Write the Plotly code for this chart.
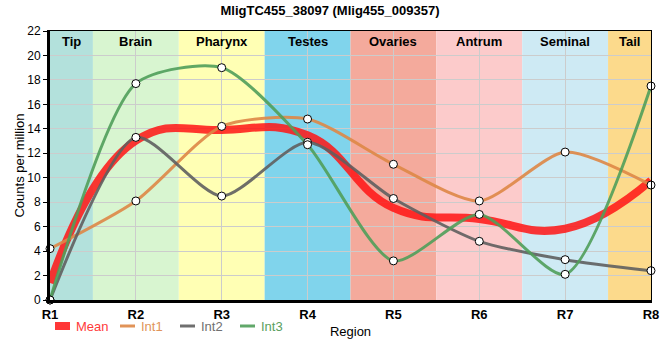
import plotly.graph_objects as go

regions = ["R1", "R2", "R3", "R4", "R5", "R6", "R7", "R8"]
int1 = [4.2, 8.1, 14.2, 14.8, 11.1, 8.1, 12.1, 9.4]
int2 = [0.0, 13.3, 8.5, 12.9, 8.3, 4.8, 3.3, 2.4]
int3 = [0.0, 17.7, 19.0, 12.7, 3.2, 7.0, 2.1, 17.5]
mean = [round((a + b + c) / 3, 2) for a, b, c in zip(int1, int2, int3)]

band_names = ["Tip", "Brain", "Pharynx", "Testes", "Ovaries", "Antrum", "Seminal", "Tail"]
band_colors = ["#b3e1dc", "#d8f5d0", "#ffffb4", "#80d4ec", "#f4aa9c", "#fccbcb", "#ceeaf4", "#fcda8c"]

series_names = ["Mean", "Int1", "Int2", "Int3"]
line_colors = ["rgba(255,20,20,0.85)", "rgba(222,135,70,0.9)", "rgba(95,95,95,0.9)", "rgba(80,158,90,0.9)"]
text_colors = ["#ff3a3a", "#e0945a", "#707070", "#5aa060"]

xs = list(range(len(regions)))

W, H = 660, 360
ML, MR, MT, MB = 50, 9, 31, 60
PW, PH = W - ML - MR, H - MT - MB

fig = go.Figure()

fig.add_trace(go.Scatter(x=xs, y=mean, mode="lines", name="Mean", showlegend=False,
                         line=dict(color=line_colors[0], width=8, shape="spline", smoothing=1.3)))
for nm, vals, col in zip(series_names[1:], [int1, int2, int3], line_colors[1:]):
    fig.add_trace(go.Scatter(x=xs, y=vals, mode="lines", name=nm, showlegend=False,
                             line=dict(color=col, width=3, shape="spline", smoothing=0.7)))
for vals in [int1, int2, int3]:
    fig.add_trace(go.Scatter(x=xs, y=vals, mode="markers", showlegend=False, cliponaxis=False,
                             marker=dict(size=8, color="white", line=dict(color="black", width=1))))

shapes = []
annotations = []
for i, (nm, col) in enumerate(zip(band_names, band_colors)):
    x0 = max(i - 0.5, 0)
    x1 = min(i + 0.5, len(regions) - 1)
    shapes.append(dict(type="rect", xref="x", yref="y", x0=x0, x1=x1, y0=0, y1=22,
                       fillcolor=col, line=dict(width=0), layer="below"))
    annotations.append(dict(x=(x0 + x1) / 2, y=22, xref="x", yref="y", yanchor="top", yshift=-1,
                            text=f"<b>{nm}</b>", showarrow=False,
                            font=dict(size=13, color="black", family="Liberation Sans, Arial")))

# legend (below plot): symbol + coloured label for each series
leg_starts = [55, 120, 180, 240]   # pixel x of each legend entry
leg_y = 326                        # pixel y of legend row
def px_x(p): return (p - ML) / PW
def px_y(p): return (H - MB - p) / PH
for i, (nm, sx) in enumerate(zip(series_names, leg_starts)):
    if i == 0:
        shapes.append(dict(type="rect", xref="paper", yref="paper",
                           x0=px_x(sx), x1=px_x(sx + 15), y0=px_y(leg_y + 4), y1=px_y(leg_y - 4),
                           fillcolor=line_colors[0], line=dict(width=0)))
    else:
        shapes.append(dict(type="line", xref="paper", yref="paper",
                           x0=px_x(sx), x1=px_x(sx + 15), y0=px_y(leg_y), y1=px_y(leg_y),
                           line=dict(color=line_colors[i], width=3)))
    annotations.append(dict(x=px_x(sx + 19), y=px_y(leg_y), xref="paper", yref="paper",
                            xanchor="left", yanchor="middle", text=nm, showarrow=False,
                            font=dict(size=13, color=text_colors[i])))

fig.update_layout(
    width=W, height=H,
    margin=dict(l=ML, r=MR, t=MT, b=MB, autoexpand=False),
    paper_bgcolor="white", plot_bgcolor="white",
    font=dict(family="Liberation Sans, Arial", size=12, color="black"),
    title=dict(text="<b>MligTC455_38097 (Mlig455_009357)</b>", x=0.5, xanchor="center",
               y=0.972, yanchor="middle", font=dict(size=13)),
    shapes=shapes, annotations=annotations,
    showlegend=False,
    xaxis=dict(tickvals=xs, ticktext=[f"<b>{r}</b>" for r in regions], range=[0, 7],
               automargin=False,
               showgrid=True, gridcolor="#cccccc", gridwidth=1, zeroline=False,
               showline=True, linecolor="black", linewidth=3, mirror=False,
               ticks="", tickfont=dict(size=13),
               title=dict(text="Region", standoff=7, font=dict(size=13))),
    xaxis2=dict(overlaying="x", range=[0, 7], showline=True, linecolor="black", linewidth=1,
                automargin=False,
                side="top", showticklabels=False, showgrid=False, zeroline=False),
    yaxis=dict(range=[0, 22], dtick=2, showgrid=True, gridcolor="#cccccc", gridwidth=1,
               automargin=False,
               zeroline=False, showline=True, linecolor="black", linewidth=3,
               ticks="outside", ticklen=4, tickcolor="black", tickfont=dict(size=12),
               title=dict(text="Counts per million", standoff=0, font=dict(size=13))),
    yaxis2=dict(overlaying="y", range=[0, 22], side="right", showline=True, linecolor="black",
                automargin=False,
                linewidth=1, showticklabels=False, showgrid=False, zeroline=False),
)
fig.add_trace(go.Scatter(x=[None], y=[None], xaxis="x2", yaxis="y2", showlegend=False))

fig.write_html("out.html", post_script="document.body.style.margin='0';",
               config={"displayModeBar": False})
